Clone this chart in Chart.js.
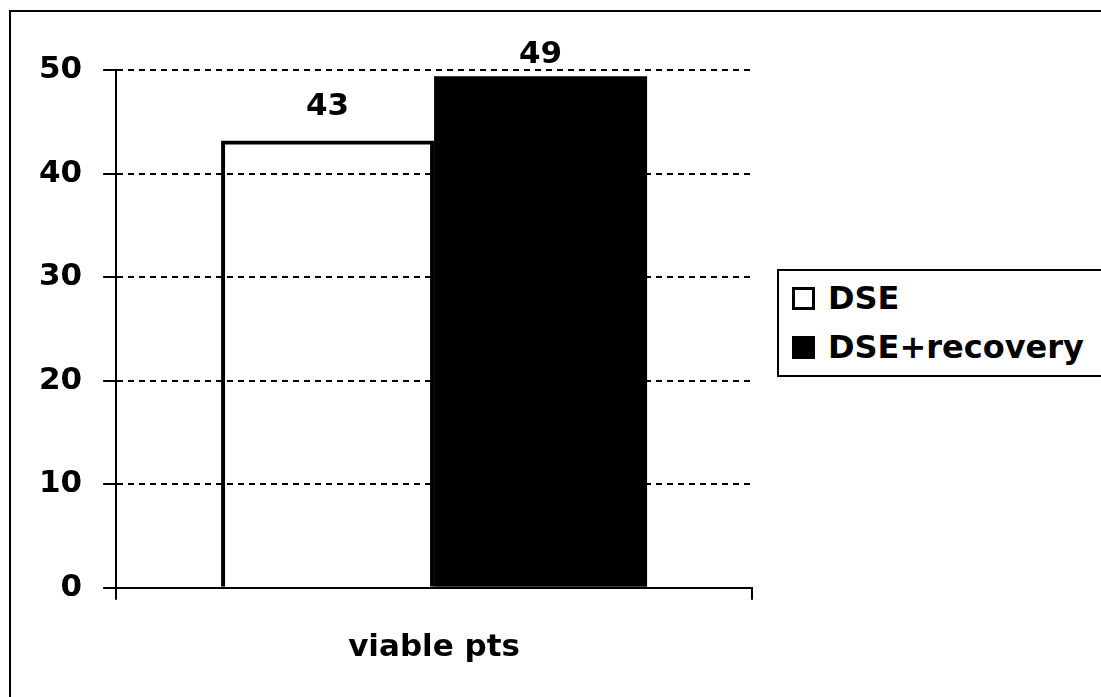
<!DOCTYPE html>
<html>
<head>
<meta charset="utf-8">
<script src="https://cdn.jsdelivr.net/npm/chart.js@4.4.0/dist/chart.umd.min.js"></script>
<style>
  html, body { margin: 0; padding: 0; background: #fff; overflow: hidden; }
  #frame { position: absolute; left: 9px; top: 10px; width: 1200px; height: 800px; border: 2px solid #000; }
  #wrap { position: absolute; left: 0; top: 0; width: 1101px; height: 697px; }
  #legend { position: absolute; left: 777px; top: 269px; width: 400px; border: 2px solid #000;
            padding: 3px 0 3px 13px; font: bold 32px "DejaVu Sans"; color: #000; background: #fff; }
  #legend .row { height: 49px; line-height: 49px; display: flex; align-items: center; }
  #legend .mark { width: 23px; height: 23px; box-sizing: border-box; border: 3px solid #000; margin-right: 13px; }
</style>
</head>
<body>
<div id="frame"></div>
<div id="wrap"><canvas id="chart" width="1101" height="697"></canvas></div>
<div id="legend"></div>
<script>
// values
const categories = ['viable pts'];
const seriesNames = ['DSE', 'DSE+recovery'];
const dseValues = [43.2];
const recoveryValues = [49.4];
const yTicks = [0, 10, 20, 30, 40, 50];

const FONT = { family: 'DejaVu Sans', size: 31, weight: 'bold' };
const fills = ['rgba(255,255,255,0)', '#000'];
const legendFills = ['#fff', '#000'];

// prints the rounded value above each bar
const valueLabels = {
  id: 'valueLabels',
  afterDatasetsDraw(chart, args, opts) {
    const ctx = chart.ctx;
    ctx.save();
    ctx.font = 'bold 31px "DejaVu Sans"';
    ctx.fillStyle = '#000';
    ctx.textAlign = 'center';
    ctx.textBaseline = 'alphabetic';
    chart.data.datasets.forEach((ds, i) => {
      chart.getDatasetMeta(i).data.forEach((bar, j) => {
        ctx.fillText(String(Math.round(ds.data[j])), bar.x, bar.y - opts.gaps[i]);
      });
    });
    ctx.restore();
  }
};

const chart = new Chart(document.getElementById('chart'), {
  type: 'bar',
  data: {
    labels: categories,
    datasets: [
      { label: seriesNames[0], data: dseValues, backgroundColor: fills[0],
        borderColor: '#000', borderWidth: 4 },
      { label: seriesNames[1], data: recoveryValues, backgroundColor: fills[1],
        borderColor: '#000', borderWidth: 0 }
    ]
  },
  options: {
    responsive: false,
    animation: false,
    events: [],
    categoryPercentage: 0.67,
    barPercentage: 1.0,
    layout: { padding: { left: 18, right: 349, top: 70, bottom: 0 } },
    plugins: {
      legend: { display: false },
      tooltip: { enabled: false },
      valueLabels: { gaps: [25, 13] }
    },
    scales: {
      x: {
        offset: true,
        grid: { display: true, offset: true, drawOnChartArea: false, drawTicks: true,
                tickLength: 12, color: '#000', lineWidth: 2 },
        border: { display: true, color: '#000', width: 2 },
        ticks: { color: '#000', font: FONT, padding: 30 }
      },
      y: {
        min: yTicks[0],
        max: yTicks[yTicks.length - 1],
        afterBuildTicks: axis => { axis.ticks = yTicks.map(v => ({ value: v })); },
        grid: { color: '#000', lineWidth: 2, tickLength: 13, drawTicks: true },
        border: { display: true, color: '#000', width: 2, dash: [6, 5] },
        ticks: { color: '#000', font: FONT, padding: 21 }
      }
    }
  },
  plugins: [valueLabels]
});

// legend built from the datasets
const legend = document.getElementById('legend');
chart.data.datasets.forEach((ds, i) => {
  const row = document.createElement('div');
  row.className = 'row';
  const mark = document.createElement('span');
  mark.className = 'mark';
  mark.style.background = legendFills[i];
  const txt = document.createElement('span');
  txt.textContent = ds.label;
  row.appendChild(mark);
  row.appendChild(txt);
  legend.appendChild(row);
});
</script>
</body>
</html>
